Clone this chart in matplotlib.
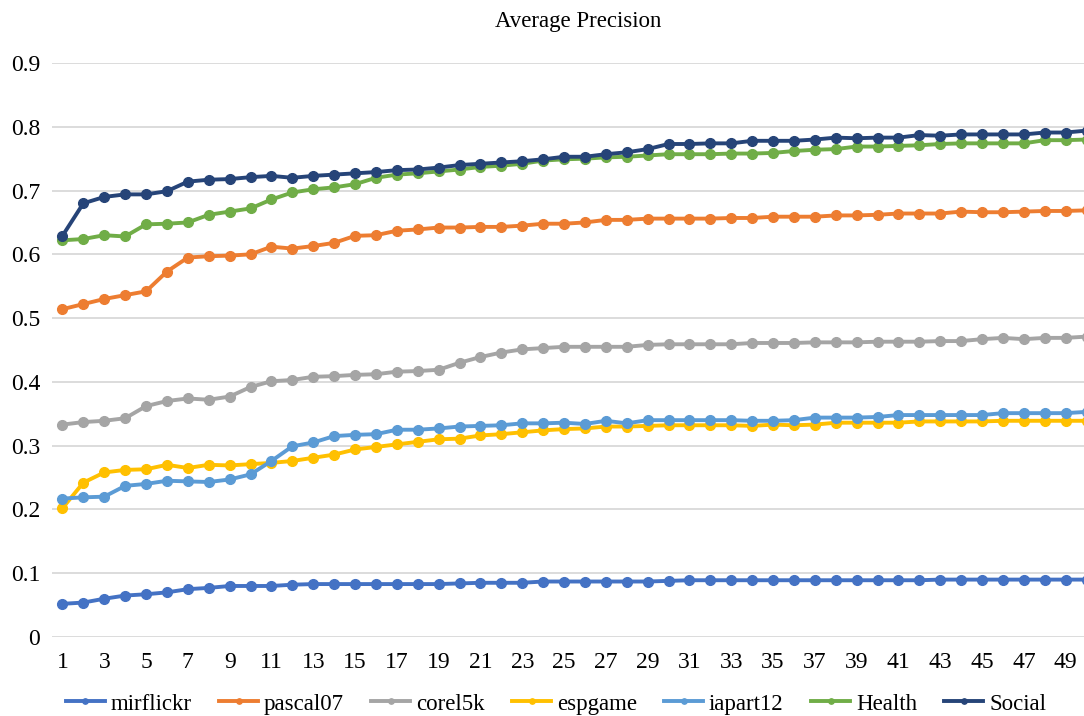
import matplotlib.pyplot as plt

# Datos (50 puntos por serie)
x = list(range(1, 51))

mirflickr = [0.052, 0.054, 0.060, 0.065, 0.067, 0.070, 0.075, 0.077, 0.080, 0.080,
             0.080, 0.082, 0.083, 0.083, 0.083, 0.083, 0.083, 0.083, 0.083, 0.084,
             0.085, 0.085, 0.085, 0.087, 0.087, 0.087, 0.087, 0.087, 0.087, 0.088,
             0.089, 0.089, 0.089, 0.089, 0.089, 0.089, 0.089, 0.089, 0.089, 0.089,
             0.089, 0.089, 0.090, 0.090, 0.090, 0.090, 0.090, 0.090, 0.090, 0.090]

pascal07 = [0.514, 0.522, 0.530, 0.536, 0.542, 0.573, 0.595, 0.597, 0.598, 0.600,
            0.612, 0.609, 0.613, 0.618, 0.629, 0.630, 0.637, 0.639, 0.642, 0.642,
            0.643, 0.643, 0.645, 0.648, 0.648, 0.650, 0.654, 0.654, 0.656, 0.656,
            0.656, 0.656, 0.657, 0.657, 0.659, 0.659, 0.659, 0.661, 0.661, 0.662,
            0.664, 0.664, 0.664, 0.667, 0.666, 0.666, 0.667, 0.668, 0.668, 0.669]

corel5k = [0.333, 0.337, 0.339, 0.343, 0.362, 0.370, 0.374, 0.372, 0.377, 0.392,
           0.401, 0.403, 0.408, 0.409, 0.411, 0.412, 0.416, 0.417, 0.419, 0.430,
           0.439, 0.446, 0.451, 0.453, 0.455, 0.455, 0.455, 0.455, 0.458, 0.459,
           0.459, 0.459, 0.459, 0.461, 0.461, 0.461, 0.462, 0.462, 0.462, 0.463,
           0.463, 0.463, 0.464, 0.464, 0.467, 0.469, 0.467, 0.469, 0.469, 0.471]

espgame = [0.202, 0.242, 0.258, 0.262, 0.263, 0.270, 0.265, 0.270, 0.269, 0.271,
           0.273, 0.276, 0.281, 0.286, 0.294, 0.298, 0.302, 0.306, 0.310, 0.311,
           0.316, 0.318, 0.321, 0.324, 0.326, 0.327, 0.330, 0.330, 0.331, 0.332,
           0.332, 0.332, 0.332, 0.331, 0.333, 0.332, 0.333, 0.336, 0.336, 0.336,
           0.336, 0.338, 0.338, 0.338, 0.338, 0.339, 0.339, 0.339, 0.339, 0.339]

iapart12 = [0.217, 0.219, 0.220, 0.237, 0.240, 0.245, 0.244, 0.243, 0.247, 0.255,
            0.276, 0.299, 0.305, 0.315, 0.317, 0.318, 0.325, 0.325, 0.327, 0.330,
            0.331, 0.332, 0.335, 0.335, 0.336, 0.334, 0.339, 0.335, 0.340, 0.340,
            0.340, 0.340, 0.340, 0.339, 0.339, 0.340, 0.344, 0.344, 0.344, 0.345,
            0.348, 0.348, 0.348, 0.348, 0.348, 0.351, 0.351, 0.351, 0.351, 0.353]

health = [0.622, 0.624, 0.630, 0.628, 0.647, 0.648, 0.650, 0.662, 0.667, 0.672,
          0.686, 0.697, 0.702, 0.705, 0.710, 0.720, 0.725, 0.727, 0.730, 0.733,
          0.737, 0.739, 0.742, 0.747, 0.749, 0.750, 0.752, 0.753, 0.755, 0.757,
          0.757, 0.757, 0.758, 0.758, 0.759, 0.762, 0.764, 0.765, 0.769, 0.769,
          0.770, 0.771, 0.773, 0.774, 0.774, 0.774, 0.774, 0.779, 0.779, 0.780]

social = [0.629, 0.680, 0.690, 0.694, 0.694, 0.699, 0.714, 0.717, 0.718, 0.721,
          0.723, 0.720, 0.723, 0.725, 0.727, 0.729, 0.732, 0.733, 0.736, 0.740,
          0.742, 0.744, 0.746, 0.749, 0.753, 0.753, 0.757, 0.760, 0.765, 0.773,
          0.773, 0.774, 0.774, 0.778, 0.778, 0.778, 0.780, 0.783, 0.782, 0.783,
          0.783, 0.787, 0.786, 0.788, 0.788, 0.788, 0.788, 0.791, 0.791, 0.794]

nombres = ["mirflickr", "pascal07", "corel5k", "espgame", "iapart12", "Health", "Social"]
series = [mirflickr, pascal07, corel5k, espgame, iapart12, health, social]
colores = ["#4472C4", "#ED7D31", "#A5A5A5", "#FFC000", "#5B9BD5", "#70AD47", "#264478"]

y_ticks = [0, 0.1, 0.2, 0.3, 0.4, 0.5, 0.6, 0.7, 0.8, 0.9]
x_ticks = list(range(1, 50, 2))

plt.rcParams['font.family'] = ['Liberation Serif', 'DejaVu Serif']

fig = plt.figure(figsize=(10.84, 7.16), dpi=100)
# el eje se sale un poco por la derecha, como en la captura original
ax = fig.add_axes([52 / 1084, 79 / 716, 1045 / 1084, 574 / 716])

for nombre, datos, color in zip(nombres, series, colores):
    ax.plot(x, datos, color=color, linewidth=2.8, marker='o', markersize=7,
            label=nombre, clip_on=False)

ax.set_xlim(0.5, 50.5)
ax.set_ylim(0, 0.9)
ax.set_yticks(y_ticks)
ax.set_yticklabels(["0" if v == 0 else f"{v:.1f}" for v in y_ticks])
ax.set_xticks(x_ticks)
ax.tick_params(axis='y', length=0, pad=8.5, labelsize=17)
ax.tick_params(axis='x', length=0, pad=11, labelsize=17)
ax.grid(axis='y', color='#D9D9D9', linewidth=1.3)
ax.set_axisbelow(True)
for lado in ax.spines.values():
    lado.set_visible(False)

fig.text(578 / 1084, 1 - 22 / 716, "Average Precision", ha='center', va='center',
         fontsize=16.5)

fig.legend(loc='center', bbox_to_anchor=(556 / 1084, 1 - 704 / 716), ncol=7,
           frameon=False, fontsize=16.5, handlelength=1.7, handletextpad=0.25,
           columnspacing=1.2, markerscale=0.55)

fig.savefig("out.png", dpi=100)
